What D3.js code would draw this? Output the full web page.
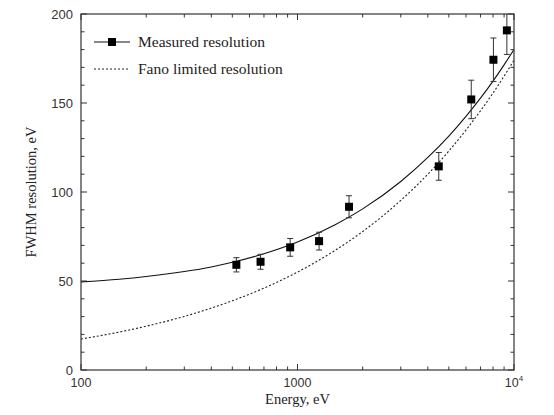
<!DOCTYPE html>
<html><head><meta charset="utf-8">
<script src="https://cdn.jsdelivr.net/npm/d3@7"></script>
<style>body{margin:0;background:#fff}svg{display:block}</style>
</head><body>
<svg id="c" width="554" height="415"></svg>
<script>
// Measured points: energy (eV), FWHM (eV), error (eV)
const energies = [522, 675, 925, 1258, 1730, 4493, 6346, 8035, 9270];
const fwhm = [59.1, 60.8, 68.9, 72.4, 91.7, 114.4, 152.0, 174.3, 190.8];
const errs = [4, 4.2, 5, 5, 6.2, 7.8, 10.8, 12.2, 13.5];
// Curves
const curveE = [100, 150, 200, 300, 400, 500, 700, 1000, 1500, 2000, 3000, 4000, 5000, 6000, 7000, 8000, 9000, 10000];
const measuredCurve = [49.5, 51.0, 52.5, 55.3, 57.9, 60.5, 65.3, 71.9, 81.8, 90.5, 105.9, 119.4, 131.4, 142.5, 152.7, 162.3, 171.4, 180.0];
const fanoCurve = [17.4, 21.3, 24.6, 30.1, 34.8, 38.9, 46.0, 55.0, 67.4, 77.8, 95.3, 110.0, 123.0, 134.8, 145.6, 155.6, 165.1, 174.0];
const yTicks = [0, 50, 100, 150, 200];
const xTickLabels = ["100", "1000", "10^4"];
const legendLabels = ["Measured resolution", "Fano limited resolution"];
const xTitle = "Energy, eV";
const yTitle = "FWHM resolution, eV";

const svg = d3.select("#c");
const L = 81, R = 514, T = 14, B = 370;
const x = d3.scaleLog().domain([100, 10000]).range([L, R]);
const y = d3.scaleLinear().domain([0, 200]).range([B, T]);
const axisColor = "#333";

svg.append("defs").append("clipPath").attr("id", "pc")
  .append("rect").attr("x", L).attr("y", T).attr("width", R - L).attr("height", B - T);

const plot = svg.append("g").attr("clip-path", "url(#pc)");

const line = d3.line().x((d, i) => x(curveE[i])).y(d => y(d)).curve(d3.curveMonotoneX);
plot.append("path").attr("d", line(measuredCurve)).attr("fill", "none")
  .attr("stroke", "#111").attr("stroke-width", 1.1);
plot.append("path").attr("d", line(fanoCurve)).attr("fill", "none")
  .attr("stroke", "#222").attr("stroke-width", 1.1).attr("stroke-dasharray", "2,2");

// error bars
const eb = plot.selectAll("g.eb").data(energies).join("g");
eb.append("line").attr("x1", d => x(d)).attr("x2", d => x(d))
  .attr("y1", (d, i) => y(fwhm[i] + errs[i])).attr("y2", (d, i) => y(fwhm[i] - errs[i]))
  .attr("stroke", "#333").attr("stroke-width", 1);
[1, -1].forEach(s => {
  eb.append("line").attr("x1", d => x(d) - 3).attr("x2", d => x(d) + 3)
    .attr("y1", (d, i) => y(fwhm[i] + s * errs[i])).attr("y2", (d, i) => y(fwhm[i] + s * errs[i]))
    .attr("stroke", "#333").attr("stroke-width", 1);
});
plot.selectAll("rect.m").data(energies).join("rect")
  .attr("x", d => x(d) - 4).attr("y", (d, i) => y(fwhm[i]) - 4)
  .attr("width", 8).attr("height", 8).attr("fill", "#000");

// axes frame
svg.append("rect").attr("x", L).attr("y", T).attr("width", R - L).attr("height", B - T)
  .attr("fill", "none").attr("stroke", axisColor).attr("stroke-width", 1.2);

const minorY = d3.range(0, 201, 10);
const xMajor = [100, 1000, 10000];
const xMinor = [];
[100, 1000].forEach(b => { for (let k = 2; k <= 9; k++) xMinor.push(b * k); });

const tk = svg.append("g").attr("stroke", axisColor).attr("stroke-width", 1);
minorY.forEach(v => {
  const len = v % 50 === 0 ? 6 : 3.5;
  tk.append("line").attr("x1", L).attr("x2", L + len).attr("y1", y(v)).attr("y2", y(v));
  tk.append("line").attr("x1", R).attr("x2", R - len).attr("y1", y(v)).attr("y2", y(v));
});
xMajor.concat(xMinor).forEach(v => {
  const len = xMajor.includes(v) ? 6 : 3.5;
  tk.append("line").attr("x1", x(v)).attr("x2", x(v)).attr("y1", B).attr("y2", B - len);
  tk.append("line").attr("x1", x(v)).attr("x2", x(v)).attr("y1", T).attr("y2", T + len);
});

// tick labels
const tfont = "'Liberation Sans', Arial, sans-serif";
svg.selectAll("text.yt").data(yTicks).join("text")
  .attr("x", L - 8).attr("y", d => y(d)).attr("dy", "0.35em")
  .attr("text-anchor", "end").attr("font-family", tfont).attr("font-size", 13).attr("fill", "#333")
  .text(d => d);
xMajor.forEach((v, i) => {
  const lab = xTickLabels[i];
  const t = svg.append("text").attr("x", x(v)).attr("y", 387)
    .attr("text-anchor", "middle").attr("font-family", tfont).attr("font-size", 12.5).attr("fill", "#333");
  if (lab.includes("^")) {
    const [b, e] = lab.split("^");
    t.append("tspan").text(b);
    t.append("tspan").attr("font-size", 8).attr("dy", -6).text(e);
  } else t.text(lab);
});

// titles
const sfont = "'Liberation Serif', 'Times New Roman', serif";
svg.append("text").attr("x", (L + R) / 2).attr("y", 404).attr("text-anchor", "middle")
  .attr("font-family", sfont).attr("font-size", 14.5).attr("fill", "#222").text(xTitle);
svg.append("text").attr("transform", `translate(36,${(T + B) / 2}) rotate(-90)`)
  .attr("text-anchor", "middle").attr("font-family", sfont).attr("font-size", 14.5).attr("fill", "#222").text(yTitle);

// legend
const lg = svg.append("g");
lg.append("line").attr("x1", 94).attr("x2", 130).attr("y1", 42).attr("y2", 42).attr("stroke", "#111").attr("stroke-width", 1.1);
lg.append("rect").attr("x", 108).attr("y", 38).attr("width", 8).attr("height", 8).attr("fill", "#000");
lg.append("line").attr("x1", 94).attr("x2", 129).attr("y1", 69).attr("y2", 69).attr("stroke", "#222").attr("stroke-width", 1.1).attr("stroke-dasharray", "2,2");
lg.selectAll("text").data(legendLabels).join("text")
  .attr("x", 138).attr("y", (d, i) => 42 + i * 27).attr("dy", "0.35em")
  .attr("font-family", sfont).attr("font-size", 15.5).attr("fill", "#222").text(d => d);
</script>
</body></html>
